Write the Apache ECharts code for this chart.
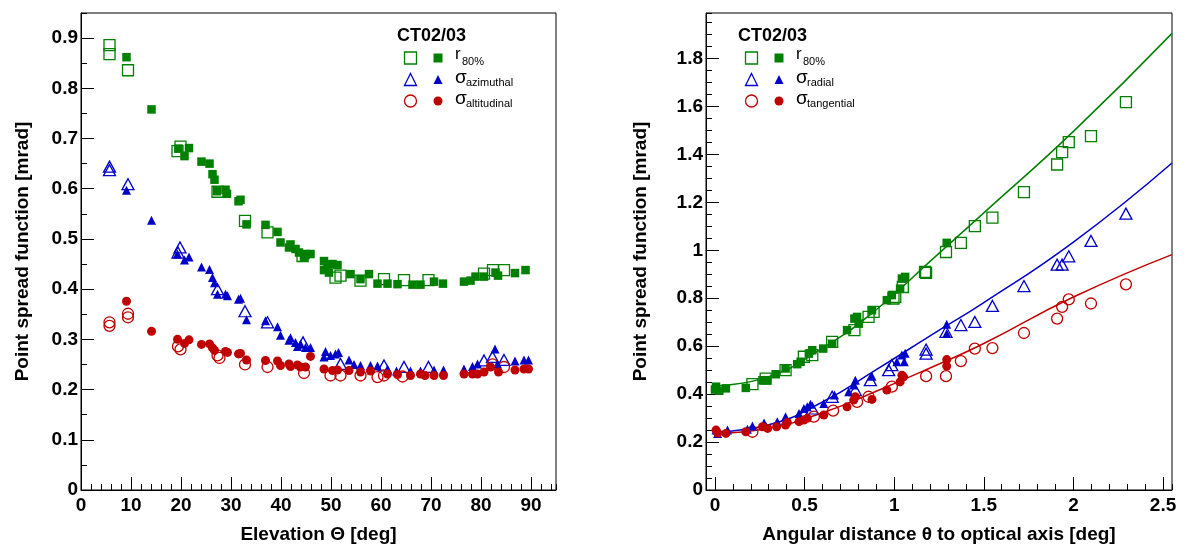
<!DOCTYPE html>
<html>
<head>
<meta charset="utf-8">
<script src="https://cdn.jsdelivr.net/npm/echarts@6/dist/echarts.min.js"></script>
<style>
  html, body { margin: 0; padding: 0; background: #fff; }
  #psf { width: 1194px; height: 550px; }
</style>
</head>
<body>
<div id="psf"></div>
<script>
// ---- data: left panel, PSF vs elevation (deg, mrad) ----
var elevR80Open = [[5.7,0.886],[5.7,0.868],[9.4,0.836],[19.9,0.684],[19.3,0.675],[27.3,0.594],[32.8,0.536],[37.3,0.513],[44.3,0.466],[50.9,0.423],[51.9,0.427],[55.9,0.417],[60.6,0.420],[64.6,0.418],[69.5,0.418],[80.6,0.431],[82.4,0.438],[84.6,0.438]];
var elevR80Fill = [[9.1,0.862],[14.1,0.758],[19.5,0.680],[21.6,0.681],[20.7,0.665],[24.1,0.654],[25.7,0.650],[26.3,0.629],[26.7,0.618],[27.2,0.595],[28.9,0.598],[29.2,0.590],[31.5,0.575],[31.9,0.578],[33.1,0.529],[36.9,0.528],[39.3,0.514],[39.9,0.493],[41.6,0.483],[41.9,0.489],[42.9,0.480],[43.6,0.473],[44.9,0.468],[45.9,0.470],[44.6,0.463],[48.6,0.456],[49.3,0.449],[48.6,0.438],[51.3,0.448],[49.6,0.433],[50.3,0.450],[53.9,0.430],[55.9,0.420],[57.6,0.430],[59.3,0.411],[61.3,0.411],[63.3,0.410],[66.3,0.409],[67.9,0.409],[70.6,0.415],[72.4,0.411],[76.6,0.415],[77.9,0.417],[78.9,0.425],[80.6,0.425],[82.9,0.433],[83.4,0.427],[86.8,0.432],[88.9,0.438]];
var elevAzOpen = [[5.7,0.644],[5.7,0.637],[9.4,0.609],[19.8,0.483],[19.4,0.473],[27.3,0.400],[32.8,0.356],[37.3,0.334],[44.4,0.294],[51.9,0.251],[60.6,0.248],[64.6,0.245],[69.5,0.245],[80.6,0.258],[82.3,0.265],[84.6,0.259]];
var elevAzFill = [[9.1,0.597],[14.1,0.537],[19.3,0.470],[20.7,0.458],[21.6,0.464],[24.1,0.444],[25.7,0.439],[26.3,0.423],[26.7,0.413],[27.3,0.390],[28.9,0.390],[29.3,0.387],[31.5,0.380],[31.9,0.382],[33.1,0.339],[36.9,0.337],[39.3,0.325],[39.9,0.308],[41.6,0.298],[41.9,0.303],[42.9,0.294],[43.3,0.286],[43.9,0.291],[44.9,0.284],[45.9,0.284],[48.9,0.276],[48.6,0.265],[49.9,0.268],[50.9,0.271],[51.5,0.274],[53.6,0.259],[54.6,0.250],[55.9,0.248],[57.9,0.248],[59.3,0.247],[61.3,0.241],[63.1,0.237],[65.9,0.237],[67.9,0.237],[70.6,0.239],[72.5,0.239],[76.6,0.241],[78.3,0.246],[79.3,0.251],[82.8,0.281],[83.3,0.251],[86.8,0.257],[88.6,0.259],[89.5,0.259]];
var elevAltOpen = [[5.7,0.334],[5.7,0.327],[9.4,0.351],[9.4,0.344],[19.4,0.286],[19.9,0.280],[27.3,0.268],[27.7,0.263],[32.8,0.250],[37.3,0.245],[44.6,0.233],[49.9,0.228],[51.9,0.228],[55.9,0.228],[59.3,0.225],[60.6,0.228],[64.3,0.226],[82.3,0.250],[84.6,0.245]];
var elevAltFill = [[9.1,0.376],[14.1,0.316],[19.3,0.300],[20.7,0.292],[21.6,0.299],[24.1,0.290],[25.7,0.291],[26.3,0.283],[26.7,0.278],[28.9,0.276],[29.3,0.274],[31.5,0.271],[31.9,0.272],[33.1,0.259],[36.9,0.258],[39.3,0.257],[39.9,0.248],[41.6,0.251],[41.9,0.246],[43.3,0.249],[43.9,0.245],[44.9,0.245],[45.9,0.266],[48.6,0.241],[50.3,0.238],[51.3,0.239],[53.6,0.238],[55.9,0.235],[57.9,0.237],[61.3,0.231],[63.3,0.230],[65.9,0.228],[67.9,0.231],[68.8,0.228],[70.6,0.228],[72.5,0.228],[76.6,0.231],[78.3,0.231],[79.3,0.231],[80.6,0.235],[81.9,0.245],[83.5,0.235],[86.8,0.239],[88.6,0.241],[89.5,0.241]];

// ---- data: right panel, PSF vs off-axis angle (deg, mrad) ----
var offR80Open = [[0.209,0.442],[0.283,0.465],[0.394,0.500],[0.496,0.556],[0.543,0.563],[0.654,0.618],[0.778,0.667],[0.857,0.722],[0.885,0.743],[0.996,0.799],[1.006,0.806],[1.048,0.847],[1.172,0.910],[1.178,0.906],[1.289,0.993],[1.372,1.031],[1.450,1.101],[1.548,1.136],[1.724,1.243],[1.909,1.358],[1.937,1.410],[1.974,1.451],[2.098,1.476],[2.293,1.618]];
var offR80Fill = [[0.0,0.419],[0.006,0.431],[0.024,0.414],[0.061,0.424],[0.172,0.426],[0.265,0.458],[0.289,0.458],[0.339,0.483],[0.394,0.507],[0.459,0.525],[0.478,0.535],[0.524,0.569],[0.543,0.583],[0.604,0.590],[0.654,0.610],[0.737,0.667],[0.778,0.715],[0.793,0.722],[0.802,0.694],[0.876,0.750],[0.959,0.792],[0.987,0.813],[1.033,0.840],[1.043,0.882],[1.061,0.889],[1.293,1.031]];
var offRadOpen = [[0.543,0.340],[0.654,0.389],[0.783,0.417],[0.867,0.458],[0.969,0.500],[0.987,0.521],[1.178,0.586],[1.178,0.569],[1.289,0.660],[1.372,0.688],[1.450,0.701],[1.548,0.768],[1.724,0.851],[1.909,0.940],[1.937,0.940],[1.974,0.975],[2.098,1.039],[2.293,1.153]];
var offRadFill = [[0.006,0.250],[0.015,0.236],[0.070,0.250],[0.181,0.253],[0.209,0.267],[0.274,0.280],[0.283,0.267],[0.348,0.285],[0.394,0.306],[0.469,0.319],[0.496,0.340],[0.515,0.347],[0.533,0.358],[0.607,0.361],[0.667,0.396],[0.746,0.410],[0.774,0.438],[0.783,0.458],[0.876,0.475],[1.015,0.535],[1.043,0.563],[1.056,0.535],[1.061,0.571],[1.293,0.692],[1.293,0.653]];
var offTanOpen = [[0.209,0.243],[0.552,0.306],[0.659,0.331],[0.793,0.368],[0.857,0.389],[0.987,0.431],[1.178,0.475],[1.289,0.475],[1.372,0.538],[1.450,0.590],[1.548,0.592],[1.724,0.655],[1.909,0.715],[1.937,0.764],[1.974,0.795],[2.098,0.778],[2.293,0.858]];
var offTanFill = [[0.006,0.250],[0.015,0.238],[0.061,0.236],[0.172,0.243],[0.265,0.264],[0.294,0.257],[0.344,0.264],[0.394,0.271],[0.404,0.282],[0.469,0.285],[0.496,0.292],[0.515,0.299],[0.607,0.313],[0.737,0.347],[0.774,0.375],[0.783,0.389],[0.876,0.378],[0.959,0.417],[1.033,0.451],[1.052,0.472],[1.043,0.479],[1.293,0.544],[1.293,0.517]];
// fitted curves
var fitR80 = [[0,0.435],[0.3,0.473],[0.6,0.592],[0.9,0.752],[1.2,0.954],[1.5,1.156],[2.0,1.496],[2.55,1.905]];
var fitRad = [[0,0.243],[0.3,0.272],[0.6,0.367],[0.9,0.502],[1.2,0.643],[1.5,0.782],[2.0,1.034],[2.55,1.364]];
var fitTan = [[0,0.237],[0.3,0.258],[0.6,0.322],[0.9,0.412],[1.2,0.509],[1.5,0.611],[2.0,0.805],[2.55,0.982]];

var GREEN = '#008000', BLUE = '#0000c8', RED = '#c00000';
var FONT = 'Liberation Sans';

var openSize = { rect: 11, triangle: [12, 11], circle: 11 };
var fillSize = { rect: 8.5, triangle: 9, circle: 9 };

function markers(name, data, g, shape, color, open) {
    return {
        name: name, type: 'scatter', xAxisIndex: g * 2, yAxisIndex: g * 2,
        data: data, symbol: shape,
        symbolSize: open ? openSize[shape] : fillSize[shape],
        itemStyle: open ? { color: 'none', borderColor: color, borderWidth: 1.3, opacity: 1 } : { color: color, opacity: 1 },
        z: open ? 3 : 4
    };
}

function fitLine(name, data, color) {
    return {
        name: name, type: 'line', xAxisIndex: 2, yAxisIndex: 2, data: data,
        smooth: true, showSymbol: false, symbol: 'none',
        lineStyle: { color: color, width: 1.5 }, z: 2
    };
}

// major axis (labels + long ticks) and a companion axis carrying only the minor ticks
function majorX(g, min, max, opt, name) {
    return Object.assign({
        type: 'value', gridIndex: g, min: min, max: max, position: 'bottom',
        name: name, nameLocation: 'middle', nameGap: 35,
        nameTextStyle: { fontFamily: FONT, fontWeight: 'bold', fontSize: 19, color: '#000' },
        axisLine: { show: true, onZero: false, lineStyle: { color: '#000', width: 1 } },
        axisTick: { show: true, inside: true, length: 13, lineStyle: { color: '#000', width: 1 } },
        axisLabel: { fontFamily: FONT, fontWeight: 'bold', fontSize: 19, color: '#000', margin: 6, showMinLabel: min === 0, showMaxLabel: false },
        splitLine: { show: false }
    }, opt);
}
function minorAxis(g, min, max, opt, pos) {
    return Object.assign({
        type: 'value', gridIndex: g, min: min, max: max, position: pos,
        axisLine: { show: false, onZero: false },
        axisTick: { show: true, inside: true, length: 6, lineStyle: { color: '#000', width: 1 } },
        axisLabel: { show: false },
        splitLine: { show: false }
    }, opt);
}
function majorY(g, min, max, opt, gap) {
    return Object.assign({
        type: 'value', gridIndex: g, min: min, max: max, position: 'left',
        name: 'Point spread function [mrad]', nameLocation: 'middle', nameGap: gap,
        nameTextStyle: { fontFamily: FONT, fontWeight: 'bold', fontSize: 19, color: '#000' },
        axisLine: { show: true, onZero: false, lineStyle: { color: '#000', width: 1 } },
        axisTick: { show: true, inside: true, length: 13, lineStyle: { color: '#000', width: 1 } },
        axisLabel: { fontFamily: FONT, fontWeight: 'bold', fontSize: 19, color: '#000', margin: 3, showMaxLabel: false },
        splitLine: { show: false }
    }, opt);
}

function iconLegend(names, shapes, colors, open, left) {
    return {
        orient: 'vertical', left: left, top: open ? 49.5 : 53.5, padding: 0,
        itemWidth: open ? 12 : 9, itemHeight: open ? 12 : 9, itemGap: open ? 4.5 : 12.5,
        selectedMode: false, formatter: function () { return ''; },
        textStyle: { fontSize: 1 },
        data: names.map(function (n, i) {
            return {
                name: n, icon: shapes[i],
                itemStyle: open ? { color: 'none', borderColor: colors[i], borderWidth: 1.3, opacity: 1 } : { color: colors[i], borderWidth: 0, opacity: 1 }
            };
        })
    };
}

function legendText(dx, subs) {
    var els = [{ type: 'text', x: 397 + dx, y: 36.5, style: { text: 'CT02/03', font: 'bold 18px ' + FONT, fill: '#000', verticalAlign: 'middle' } }];
    var mainY = [54.5, 78, 99], subY = [61.5, 83, 104], mains = ['r', 'σ', 'σ'], subX = [462, 466, 466];
    for (var i = 0; i < 3; i++) {
        els.push({ type: 'text', x: 455 + dx, y: mainY[i], style: { text: mains[i], font: (i ? 19 : 17) + 'px ' + FONT, fill: '#000', verticalAlign: 'middle' } });
        els.push({ type: 'text', x: subX[i] + dx, y: subY[i], style: { text: subs[i], font: '11px ' + FONT, fill: '#000', verticalAlign: 'middle' } });
    }
    return els;
}

var myChart = echarts.init(document.getElementById('psf'), null, { renderer: 'canvas' });

var option = {
    animation: false,
    backgroundColor: '#fff',
    grid: [
        { left: 81, right: 638, top: 13, bottom: 60, show: true, borderColor: '#000', borderWidth: 1, outerBoundsMode: 'none' },
        { left: 706, right: 22, top: 13, bottom: 60, show: true, borderColor: '#000', borderWidth: 1, outerBoundsMode: 'none' }
    ],
    xAxis: [
        majorX(0, 0, 95, { interval: 10 }, 'Elevation Θ [deg]'),
        minorAxis(0, 0, 95, { interval: 2 }, 'bottom'),
        majorX(1, -0.05, 2.55, { splitNumber: 5 }, 'Angular distance θ to optical axis [deg]'),
        minorAxis(1, -0.05, 2.55, { splitNumber: 26 }, 'bottom')
    ],
    yAxis: [
        majorY(0, 0, 0.95, { interval: 0.1 }, 49),
        minorAxis(0, 0, 0.95, { interval: 0.05 }, 'left'),
        majorY(1, 0, 1.99, { interval: 0.2 }, 56),
        minorAxis(1, 0, 1.99, { interval: 0.05 }, 'left')
    ],
    legend: [
        iconLegend(['r80 open', 'az open', 'alt open'], ['rect', 'triangle', 'circle'], [GREEN, BLUE, RED], true, 402),
        iconLegend(['r80 fill', 'az fill', 'alt fill'], ['rect', 'triangle', 'circle'], [GREEN, BLUE, RED], false, 433.5),
        iconLegend(['r80 open R', 'rad open', 'tan open'], ['rect', 'triangle', 'circle'], [GREEN, BLUE, RED], true, 743),
        iconLegend(['r80 fill R', 'rad fill', 'tan fill'], ['rect', 'triangle', 'circle'], [GREEN, BLUE, RED], false, 774.5)
    ],
    graphic: legendText(0, ['80%', 'azimuthal', 'altitudinal']).concat(legendText(341, ['80%', 'radial', 'tangential'])),
    series: [
        markers('r80 open', elevR80Open, 0, 'rect', GREEN, true),
        markers('r80 fill', elevR80Fill, 0, 'rect', GREEN, false),
        markers('az open', elevAzOpen, 0, 'triangle', BLUE, true),
        markers('az fill', elevAzFill, 0, 'triangle', BLUE, false),
        markers('alt open', elevAltOpen, 0, 'circle', RED, true),
        markers('alt fill', elevAltFill, 0, 'circle', RED, false),
        fitLine('r80 fit', fitR80, GREEN),
        fitLine('rad fit', fitRad, BLUE),
        fitLine('tan fit', fitTan, RED),
        markers('r80 open R', offR80Open, 1, 'rect', GREEN, true),
        markers('r80 fill R', offR80Fill, 1, 'rect', GREEN, false),
        markers('rad open', offRadOpen, 1, 'triangle', BLUE, true),
        markers('rad fill', offRadFill, 1, 'triangle', BLUE, false),
        markers('tan open', offTanOpen, 1, 'circle', RED, true),
        markers('tan fill', offTanFill, 1, 'circle', RED, false)
    ]
};

myChart.setOption(option);
window.onresize = function () { myChart.resize(); };
</script>
</body>
</html>
